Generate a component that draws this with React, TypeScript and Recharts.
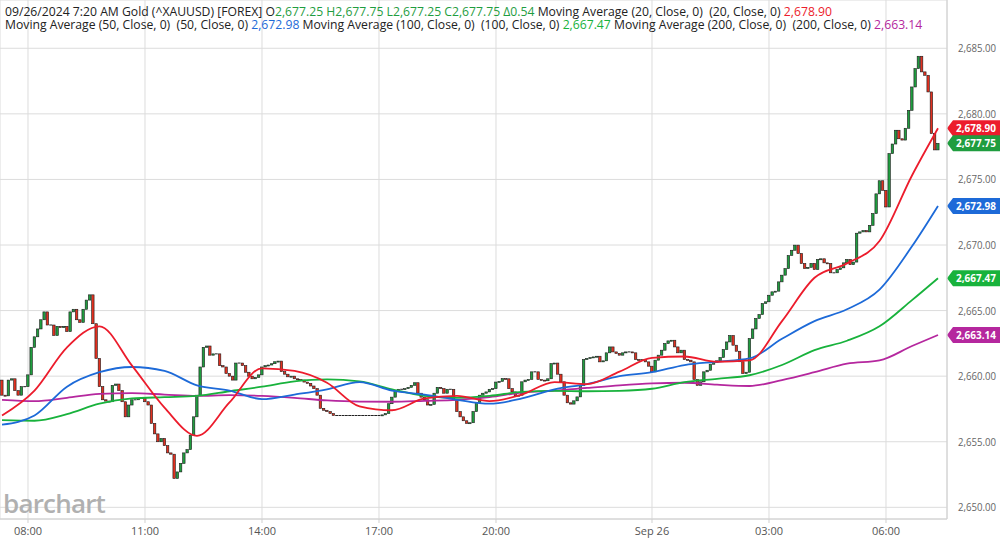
import React from "react";
import {
  ComposedChart,
  Bar,
  Line,
  XAxis,
  YAxis,
  CartesianGrid,
  ReferenceLine,
} from "recharts";

// 5-minute candles, 09/25 07:20 -> 09/26 07:20
const firstOpen = 2659.7;
const closes = [
  2658.55, 2658.5, 2659.7, 2659.8, 2658.9, 2658.55, 2659.2, 2659.2, 2660.1, 2662.2,
  2663.0, 2663.6, 2664.3, 2664.9, 2663.9, 2663.9, 2663.1, 2663.8, 2663.7, 2663.8,
  2663.4, 2664.9, 2665.1, 2664.3, 2664.1, 2665.1, 2665.8, 2666.2, 2664.0, 2661.35,
  2659.2, 2658.2, 2658.1, 2658.05, 2659.3, 2659.4, 2658.9, 2658.05, 2656.9, 2657.8,
  2658.2, 2658.2, 2658.3, 2658.3, 2658.05, 2657.8, 2656.4, 2655.6, 2655.0, 2655.25,
  2654.7, 2654.15, 2654.05, 2652.2, 2652.7, 2653.35, 2654.15, 2654.4, 2655.5, 2656.9,
  2658.55, 2660.7, 2662.2, 2662.3, 2661.6, 2661.7, 2661.7, 2660.8, 2660.7, 2660.2,
  2660.0, 2659.7, 2661.0, 2661.0, 2660.8, 2660.3, 2660.0, 2659.8, 2659.9, 2660.1,
  2660.7, 2660.8, 2660.85, 2660.95, 2661.1, 2661.15, 2660.35, 2660.15, 2659.95, 2660.0,
  2659.8, 2659.75, 2659.7, 2659.55, 2659.45, 2659.25, 2659.05, 2658.55, 2657.55, 2657.4,
  2657.3, 2657.15, 2657.0, 2657.0, 2657.0, 2657.0, 2657.0, 2657.0, 2657.0, 2657.0,
  2657.0, 2657.0, 2657.0, 2657.0, 2657.0, 2657.0, 2657.0, 2657.05, 2657.15, 2657.9,
  2658.4, 2658.9, 2659.0, 2659.0, 2659.05, 2659.15, 2659.3, 2659.5, 2658.7, 2658.4,
  2658.2, 2657.8, 2657.85, 2658.7, 2659.15, 2659.05, 2658.7, 2659.0, 2659.0, 2658.2,
  2657.3, 2656.9, 2656.6, 2656.4, 2656.45, 2657.3, 2658.0, 2658.55, 2658.7, 2658.8,
  2659.0, 2659.05, 2659.55, 2659.6, 2659.82, 2659.8, 2659.05, 2658.8, 2658.5, 2658.55,
  2659.57, 2659.7, 2659.75, 2660.33, 2660.33, 2659.75, 2659.7, 2659.65, 2659.8, 2660.96,
  2661.0, 2660.15, 2659.57, 2658.55, 2657.97, 2657.87, 2658.12, 2658.42, 2659.3, 2661.27,
  2661.35, 2661.42, 2661.47, 2661.52, 2661.09, 2661.17, 2661.78, 2662.23, 2661.85, 2661.73,
  2661.6, 2661.78, 2661.85, 2661.85, 2661.78, 2661.27, 2661.22, 2661.27, 2661.09, 2660.76,
  2660.33, 2661.22, 2661.6, 2661.98, 2662.49, 2662.69, 2662.74, 2662.23, 2661.78, 2661.98,
  2661.27, 2661.22, 2661.09, 2659.75, 2659.3, 2659.57, 2660.33, 2660.45, 2660.91, 2661.06,
  2661.17, 2661.42, 2662.03, 2662.61, 2663.1, 2662.36, 2661.9, 2661.1, 2660.2, 2660.3,
  2662.87, 2663.6, 2664.4, 2664.7, 2665.54, 2665.67, 2666.17, 2666.43, 2666.48, 2667.19,
  2667.7, 2668.2, 2669.2, 2669.6, 2669.99, 2669.35, 2668.59, 2668.21, 2668.3, 2668.6,
  2668.13, 2668.9, 2668.95, 2668.64, 2668.59, 2667.88, 2667.88, 2668.13, 2668.26, 2668.64,
  2668.9, 2668.5, 2668.7, 2670.9, 2671.0, 2671.1, 2671.0, 2671.5, 2672.4, 2673.9,
  2674.9, 2674.17, 2672.9, 2676.97, 2677.7, 2678.75, 2678.1, 2678.0, 2678.9, 2680.27,
  2682.05, 2683.45, 2684.39, 2683.2, 2682.94, 2681.67, 2678.5, 2677.25, 2677.75,
];

// moving averages read every 10 bars
const maIndex = [
  0, 10, 20, 30, 40, 50, 60, 70, 80, 90, 100, 110, 120, 130, 140, 150, 160, 170, 180,
  190, 200, 210, 220, 230, 240, 250, 260, 270, 280, 288,
];
const ma20 = [
  2657.0, 2658.9, 2662.2, 2663.8, 2660.8, 2657.6, 2655.45, 2658.0, 2660.6, 2660.4,
  2659.5, 2657.7, 2657.4, 2658.3, 2658.5, 2658.1, 2658.6, 2659.55, 2659.4, 2660.35,
  2661.4, 2661.5, 2661.1, 2661.2, 2664.2, 2667.5, 2668.6, 2670.3, 2675.3, 2678.9,
];
const ma50 = [
  2656.3, 2657.0, 2659.2, 2660.3, 2660.7, 2660.4, 2659.3, 2658.9, 2658.25, 2658.6,
  2659.0, 2659.55, 2658.9, 2658.6, 2658.2, 2657.9, 2658.3, 2659.0, 2659.4, 2660.0,
  2660.3, 2660.85, 2661.1, 2661.35, 2662.85, 2664.2, 2665.1, 2666.6, 2669.9, 2672.98,
];
const ma100 = [
  2656.65, 2656.6, 2657.1, 2657.9, 2658.3, 2658.4, 2658.5, 2658.85, 2659.2, 2659.6,
  2659.75, 2659.6, 2659.0, 2658.5, 2658.35, 2658.5, 2658.8, 2658.88, 2658.85, 2658.88,
  2659.04, 2659.55, 2659.8, 2660.07, 2660.85, 2661.98, 2662.7, 2663.8, 2665.8, 2667.47,
];
const ma200 = [
  2658.2, 2658.1, 2658.35, 2658.65, 2658.7, 2658.6, 2658.5, 2658.55, 2658.5, 2658.35,
  2658.15, 2658.06, 2658.05, 2658.12, 2658.2, 2658.4, 2658.75, 2658.9, 2659.1, 2659.3,
  2659.45, 2659.5, 2659.35, 2659.25, 2659.7, 2660.3, 2660.95, 2661.2, 2662.3, 2663.14,
];

const timeTicks = [8, 44, 80, 116, 152, 200, 236, 272];
const timeLabels = ["08:00", "11:00", "14:00", "17:00", "20:00", "Sep 26", "03:00", "06:00"];
const priceTicks = [2650, 2655, 2660, 2665, 2670, 2675, 2680, 2685];

const lastClose = 2677.75;
const lastMa = { ma20: 2678.9, ma50: 2672.98, ma100: 2667.47, ma200: 2663.14 };

const UP = "#1f9d3f";
const DOWN = "#e2301f";
const C20 = "#ec1c2c";
const C50 = "#1d6ad8";
const C100 = "#18b23c";
const C200 = "#b5279e";
const FONT = "'Open Sans', 'Noto Sans', sans-serif";

const fmt = (v: number) =>
  v.toLocaleString("en-US", { minimumFractionDigits: 2, maximumFractionDigits: 2 });

const rows = closes.map((c, i) => {
  const o = i === 0 ? firstOpen : closes[i - 1];
  return { i, open: o, close: c, body: [Math.min(o, c), Math.max(o, c)] };
});
const maRows = maIndex.map((idx, k) => ({
  i: idx,
  ma20: ma20[k],
  ma50: ma50[k],
  ma100: ma100[k],
  ma200: ma200[k],
}));

const Candle = (props: any) => {
  const { x, y, width, height, payload } = props;
  if (x == null || y == null) return null;
  const cx = x + width / 2;
  const top = height < 0 ? y + height : y;
  const h = Math.abs(height);
  if (payload.open === payload.close) {
    return <line x1={cx - 1.4} x2={cx + 1.4} y1={top} y2={top} stroke="#222" strokeWidth={1} />;
  }
  const up = payload.close > payload.open;
  return (
    <rect
      x={cx - 1.2}
      y={top}
      width={2.4}
      height={Math.max(h, 1)}
      fill={up ? UP : DOWN}
      stroke="#1a1a1a"
      strokeWidth={0.6}
    />
  );
};

const PriceTick = (props: any) => {
  const { x, y, payload } = props;
  return (
    <text
      x={x - 1}
      y={y}
      dy={4}
      fill="#666"
      fontSize={10.8}
      fontFamily={FONT}
      textLength={38}
      lengthAdjust="spacingAndGlyphs"
    >
      {fmt(payload.value)}
    </text>
  );
};

const TimeTick = (props: any) => {
  const { x, y, payload } = props;
  return (
    <text x={x} y={y} dy={9} textAnchor="middle" fill="#555" fontSize={11} fontFamily={FONT}>
      {timeLabels[timeTicks.indexOf(payload.value)]}
    </text>
  );
};

const tag = (value: number, color: string) => (props: any) => {
  const vb = props.viewBox || {};
  const tip = (vb.x || 0) + (vb.width || 0);
  const y = vb.y || 0;
  return (
    <g>
      <path
        d={`M${tip},${y} L${tip + 6},${y - 8} L${tip + 53},${y - 8} L${tip + 53},${y + 8} L${tip + 6},${y + 8} Z`}
        fill={color}
      />
      <text
        x={tip + 9}
        y={y + 4}
        fill="#fff"
        fontSize={10.5}
        fontWeight={700}
        fontFamily={FONT}
        textLength={40}
        lengthAdjust="spacingAndGlyphs"
      >
        {fmt(value)}
      </text>
    </g>
  );
};

const Legend = () => (
  <div
    style={{
      position: "absolute",
      left: 5,
      top: 5,
      fontFamily: FONT,
      fontSize: 12.2,
      lineHeight: "13.4px",
      color: "#222",
      whiteSpace: "pre",
      pointerEvents: "none",
    }}
  >
    <div>
      {"09/26/2024 7:20 AM Gold (^XAUUSD) [FOREX] O"}
      <span style={{ color: UP }}>{"2,677.25 H2,677.75 L2,677.25 C2,677.75 Δ0.54"}</span>
      {" Moving Average (20, Close, 0)  (20, Close, 0) "}
      <span style={{ color: C20 }}>{fmt(lastMa.ma20)}</span>
    </div>
    <div>
      {"Moving Average (50, Close, 0)  (50, Close, 0) "}
      <span style={{ color: C50 }}>{fmt(lastMa.ma50)}</span>
      {" Moving Average (100, Close, 0)  (100, Close, 0) "}
      <span style={{ color: C100 }}>{fmt(lastMa.ma100)}</span>
      {" Moving Average (200, Close, 0)  (200, Close, 0) "}
      <span style={{ color: C200 }}>{fmt(lastMa.ma200)}</span>
    </div>
  </div>
);

export default function App() {
  return (
    <div style={{ position: "absolute", left: 0, top: 0, width: 1000, height: 541, background: "#fff" }}>
      <ComposedChart
        width={1000}
        height={541}
        data={rows}
        margin={{ top: 0, right: 0, bottom: 0, left: 0 }}
      >
        <CartesianGrid stroke="#dcdcdc" strokeWidth={1} />
        <XAxis
          dataKey="i"
          type="number"
          domain={[-0.615, 290.77]}
          allowDataOverflow
          ticks={timeTicks}
          height={22}
          tickSize={4}
          tickMargin={3}
          axisLine={{ stroke: "#d0d0d0" }}
          tickLine={{ stroke: "#d0d0d0" }}
          tick={<TimeTick />}
        />
        <YAxis
          orientation="right"
          type="number"
          domain={[2649.11, 2688.68]}
          allowDataOverflow
          ticks={priceTicks}
          width={53}
          tickLine={false}
          tickMargin={6}
          axisLine={{ stroke: "#d0d0d0" }}
          tick={<PriceTick />}
        />
        <Bar dataKey="body" barSize={3} shape={Candle} isAnimationActive={false} />
        <Line data={maRows} type="monotone" dataKey="ma200" stroke={C200} strokeWidth={1.8} dot={false} activeDot={false} isAnimationActive={false} />
        <Line data={maRows} type="monotone" dataKey="ma100" stroke={C100} strokeWidth={1.8} dot={false} activeDot={false} isAnimationActive={false} />
        <Line data={maRows} type="monotone" dataKey="ma50" stroke={C50} strokeWidth={1.8} dot={false} activeDot={false} isAnimationActive={false} />
        <Line data={maRows} type="monotone" dataKey="ma20" stroke={C20} strokeWidth={1.8} dot={false} activeDot={false} isAnimationActive={false} />
        <ReferenceLine y={lastMa.ma20} stroke="none" label={tag(lastMa.ma20, C20)} />
        <ReferenceLine y={lastClose} stroke="none" label={tag(lastClose, UP)} />
        <ReferenceLine y={lastMa.ma50} stroke="none" label={tag(lastMa.ma50, C50)} />
        <ReferenceLine y={lastMa.ma100} stroke="none" label={tag(lastMa.ma100, C100)} />
        <ReferenceLine y={lastMa.ma200} stroke="none" label={tag(lastMa.ma200, C200)} />
      </ComposedChart>
      <Legend />
      <div
        style={{
          position: "absolute",
          left: 3,
          top: 485,
          fontFamily: FONT,
          fontSize: 26,
          fontWeight: 600,
          letterSpacing: -0.8,
          color: "#b0b0b0",
          pointerEvents: "none",
        }}
      >
        barchart
      </div>
    </div>
  );
}
